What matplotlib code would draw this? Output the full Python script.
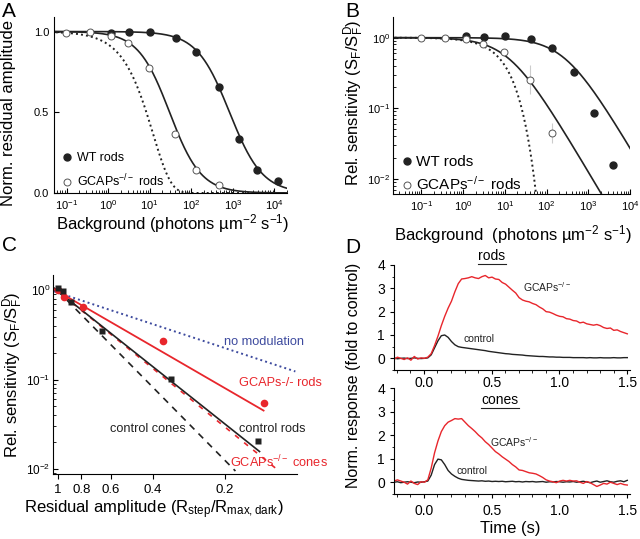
import numpy as np
import matplotlib
matplotlib.use('Agg')
import matplotlib.pyplot as plt
from matplotlib.ticker import FixedLocator, NullLocator, MultipleLocator

plt.rcParams['font.family'] = ['Liberation Sans', 'DejaVu Sans']
plt.rcParams['mathtext.fontset'] = 'custom'
plt.rcParams['mathtext.rm'] = 'Liberation Sans'
plt.rcParams['mathtext.it'] = 'Liberation Sans:italic'
plt.rcParams['mathtext.bf'] = 'Liberation Sans:bold'
plt.rcParams['axes.linewidth'] = 0.8

RED = '#e8262c'
BLUE = '#3d4a9e'
DARK = '#222222'

# ---------- panel A: residual amplitude vs background ----------
bg_wt_A = [1.16, 3.2, 10, 43.6, 132, 453, 1393, 3837, 12250]
amp_wt = [0.99, 1.0, 1.0, 0.96, 0.875, 0.655, 0.335, 0.145, 0.075]
bg_ko_A = [0.096, 0.36, 1.16, 3.0, 9.5, 41.3, 132, 453]
amp_ko = [0.99, 1.0, 0.97, 0.93, 0.775, 0.365, 0.14, 0.05]
hill_wt = (830, 1.1)      # half-saturating background, exponent
hill_ko = (30, 1.15)
exp_ko_A = 12.0           # dotted exponential curve

# ---------- panel B: relative sensitivity vs background ----------
bg_wt_B = [1.16, 3.2, 10, 43.6, 132, 453, 1393, 3837]
sens_wt = [1.04, 1.01, 1.06, 0.97, 0.71, 0.33, 0.087, 0.0156]
bg_ko_B = [0.096, 0.36, 1.16, 3.0, 9.5, 41.3, 132]
sens_ko = [0.99, 0.99, 0.95, 0.82, 0.63, 0.25, 0.044]
err_ko_lo = [0, 0, 0, 0, 0, 0.09, 0.012]
err_ko_hi = [0, 0, 0, 0, 0, 0.16, 0.017]
weber_wt = 280.0
weber_ko = 12.7
exp_ko_B = 11.0

# ---------- panel C: sensitivity vs residual amplitude ----------
ctrl_rods_amp = [1.0, 0.953, 0.879, 0.653, 0.336, 0.145]
ctrl_rods_sens = [1.045, 0.98, 0.73, 0.352, 0.101, 0.0207]
ko_rods_amp = [1.0, 0.946, 0.785, 0.365, 0.138]
ko_rods_sens = [1.0, 0.842, 0.641, 0.272, 0.0546]
# straight fits on log-log axes, given by their end points
nomod_x, nomod_y = [1.04, 0.1016], [0.966, 0.123]
ko_rods_fit_x, ko_rods_fit_y = [1.04, 0.138], [1.02, 0.045]
ctrl_rods_fit_x, ctrl_rods_fit_y = [1.04, 0.1435], [1.05, 0.0157]
ko_cones_fit_x, ko_cones_fit_y = [1.04, 0.12], [1.05, 0.0097]
ctrl_cones_fit_x, ctrl_cones_fit_y = [1.0, 0.181], [0.97, 0.0095]

# ---------- panel D: normalized flash responses, -0.22..1.5 s ----------
rods_ko = [-0.05, 0.05, 0.0, -0.05, 0.02, -0.08, 0.08, -0.03, 0.02, 0.0, 0.05,
           0.2, 0.55, 0.95, 1.4, 1.8, 2.15, 2.45, 2.85, 3.2, 3.4,
           3.42, 3.45, 3.5, 3.45, 3.42, 3.5, 3.55, 3.45, 3.48, 3.4,
           3.38, 3.25, 3.18, 3.05, 2.92, 2.8, 2.6, 2.5, 2.45, 2.42,
           2.35, 2.3, 2.2, 2.12, 2.0, 1.98, 1.92, 1.85, 1.8, 1.78,
           1.7, 1.68, 1.62, 1.6, 1.52, 1.55, 1.48, 1.45, 1.42, 1.45,
           1.4, 1.32, 1.28, 1.3, 1.2, 1.22, 1.15, 1.1, 1.05]
rods_ctrl = [0.02, -0.02, 0.0, 0.01, -0.01, 0.0, 0.02, 0.0, -0.01, 0.0, 0.02,
             0.15, 0.45, 0.75, 0.97, 1.0, 0.9, 0.72, 0.58, 0.5, 0.47,
             0.45, 0.43, 0.41, 0.39, 0.37, 0.35, 0.33, 0.3, 0.28, 0.26,
             0.24, 0.22, 0.2, 0.19, 0.17, 0.16, 0.15, 0.14, 0.12, 0.11,
             0.1, 0.09, 0.08, 0.08, 0.07, 0.06, 0.06, 0.05, 0.05, 0.04,
             0.04, 0.04, 0.03, 0.03, 0.03, 0.03, 0.02, 0.03, 0.02, 0.02,
             0.03, 0.02, 0.02, 0.02, 0.03, 0.02, 0.02, 0.03, 0.03]
cones_ko = [0.05, 0.1, 0.05, 0.0, -0.08, 0.05, -0.05, -0.1, 0.02, 0.0, 0.1,
            0.6, 1.25, 1.75, 2.15, 2.4, 2.55, 2.62, 2.7, 2.68, 2.7,
            2.55, 2.4, 2.28, 2.15, 2.0, 1.88, 1.72, 1.6, 1.45, 1.3,
            1.2, 1.08, 0.98, 0.88, 0.75, 0.65, 0.52, 0.5, 0.45, 0.4,
            0.38, 0.35, 0.28, 0.2, 0.1, 0.05, 0.02, -0.02, 0.05, 0.08,
            0.05, 0.08, 0.05, 0.06, 0.0, -0.05, 0.03, -0.02, -0.1, -0.18,
            -0.12, -0.05, -0.08, 0.0, -0.05, -0.1, -0.05, -0.1, -0.12]
cones_ctrl = [0.0, 0.02, -0.02, 0.0, 0.02, 0.0, -0.02, 0.01, 0.0, 0.02, 0.05,
              0.3, 0.75, 0.98, 0.95, 0.75, 0.5, 0.35, 0.25, 0.17, 0.12,
              0.1, 0.08, 0.07, 0.06, 0.05, 0.06, 0.04, 0.05, 0.03, 0.04,
              0.03, 0.04, 0.02, 0.03, 0.04, 0.02, 0.03, 0.01, 0.03, 0.02,
              0.03, 0.01, 0.02, 0.03, 0.0, 0.02, 0.01, 0.03, 0.02, 0.0,
              0.02, 0.01, 0.03, 0.0, 0.02, 0.04, 0.01, -0.02, 0.02, 0.05,
              0.0, 0.03, 0.06, 0.02, 0.0, 0.04, 0.06, 0.02, 0.08]
t_start, t_end = -0.22, 1.5


def hill(x, half, n):
    return 1.0 / (1.0 + (x / half) ** n)


fig = plt.figure(figsize=(6.4, 5.39), dpi=100)


def px_axes(left, top, right, bottom):
    W, H = 640, 539
    ax = fig.add_axes([left / W, 1 - bottom / H, (right - left) / W, (bottom - top) / H])
    ax.patch.set_visible(False)
    return ax


def clean(ax, direction='in', size=8):
    ax.spines['top'].set_visible(False)
    ax.spines['right'].set_visible(False)
    ax.tick_params(which='both', direction=direction, labelsize=size)
    ax.tick_params(which='major', length=3.5)
    ax.tick_params(which='minor', length=2)


def underline(txt):
    fig.canvas.draw()
    bb = txt.get_window_extent().transformed(fig.transFigure.inverted())
    fig.add_artist(plt.Line2D([bb.x0, bb.x1], [bb.y0 - 0.002, bb.y0 - 0.002],
                              transform=fig.transFigure, color=DARK, lw=0.8))


# ===== A =====
axA = px_axes(54, 17, 287, 193)
xx = np.logspace(-1.5, 4.5, 500)
axA.plot(xx, hill(xx, *hill_wt), color=DARK, lw=1.2)
axA.plot(xx, hill(xx, *hill_ko), color=DARK, lw=1.2)
axA.plot(xx, np.exp(-xx / exp_ko_A), color=DARK, lw=1.4, ls=(0, (1, 1.6)))
axA.plot(bg_wt_A, amp_wt, 'o', ms=5, color=DARK, label='WT rods')
axA.plot(bg_ko_A, amp_ko, 'o', ms=5, mfc='white', mec='#555555', mew=0.7,
         label='GCAPs$^{-/-}$ rods')
axA.set_xscale('log')
axA.set_xlim(0.05, 2e4)
axA.set_ylim(0, 1.09)
axA.yaxis.set_major_locator(FixedLocator([0, 0.5, 1.0]))
axA.set_yticklabels(['0.0', '0.5', '1.0'])
clean(axA, 'in', 8)
axA.legend(loc='center left', bbox_to_anchor=(0.033, 0.125), frameon=False,
           fontsize=9, handlelength=0.8, handletextpad=0.4, borderpad=0,
           borderaxespad=0, labelspacing=0.7)
fig.text(0.269, 0.586, r'Background (photons µm$^{-2}$ s$^{-1}$)', ha='center',
         va='center', fontsize=12)
fig.text(0.014, 0.79, 'Norm. residual amplitude', rotation=90, ha='center',
         va='center', fontsize=12)

# ===== B =====
axB = px_axes(393, 17, 630, 194)
xx = np.logspace(-2, 4.2, 500)
axB.plot(xx, 1.0 / (1.0 + xx / weber_wt), color=DARK, lw=1.2)
axB.plot(xx, 1.0 / (1.0 + xx / weber_ko), color=DARK, lw=1.2)
axB.plot(xx, np.exp(-xx / exp_ko_B), color=DARK, lw=1.4, ls=(0, (1, 1.6)))
axB.errorbar(bg_ko_B, sens_ko, yerr=[err_ko_lo, err_ko_hi], fmt='none',
             ecolor='#cccccc', elinewidth=0.8)
axB.plot(bg_wt_B, sens_wt, 'o', ms=5, color=DARK, label='WT rods')
axB.plot(bg_ko_B, sens_ko, 'o', ms=5, mfc='white', mec='#555555', mew=0.7,
         label='GCAPs$^{-/-}$ rods')
axB.set_xscale('log')
axB.set_yscale('log')
axB.set_xlim(0.021, 1e4)
axB.set_ylim(0.0061, 1.96)
clean(axB, 'in', 8)
axB.tick_params(axis='y', pad=2)
axB.legend(loc='center left', bbox_to_anchor=(0.038, 0.113), frameon=False,
           fontsize=11, handlelength=0.6, handletextpad=0.3, borderpad=0,
           borderaxespad=0, labelspacing=0.4)
fig.text(0.801, 0.564, r'Background  (photons µm$^{-2}$ s$^{-1}$)', ha='center',
         va='center', fontsize=12)
fig.text(0.553, 0.81, r'Rel. sensitivity (S$_\mathrm{F}$/S$_\mathrm{F}^\mathrm{D}$)',
         rotation=90, ha='center', va='center', fontsize=12)

# ===== C =====
axC = px_axes(53, 275, 297, 474)
axC.plot(nomod_x, nomod_y, color=BLUE, lw=1.4, ls=(0, (1, 1.6)))
axC.plot(ctrl_cones_fit_x, ctrl_cones_fit_y, color=DARK, lw=1.2, ls=(0, (4, 3.5)))
axC.plot(ko_cones_fit_x, ko_cones_fit_y, color=RED, lw=1.2, ls=(0, (3, 4)))
axC.plot(ctrl_rods_fit_x, ctrl_rods_fit_y, color=DARK, lw=1.2)
axC.plot(ko_rods_fit_x, ko_rods_fit_y, color=RED, lw=1.3)
axC.plot(ko_rods_amp, ko_rods_sens, 'o', ms=5.5, color=RED, mec='none')
axC.plot(ctrl_rods_amp, ctrl_rods_sens, 's', ms=4.5, color=DARK, mec='none')
axC.set_xscale('log')
axC.set_yscale('log')
axC.set_xlim(1.05, 0.1)
axC.set_ylim(0.0088, 1.47)
axC.xaxis.set_major_locator(FixedLocator([1, 0.8, 0.6, 0.4, 0.2]))
axC.xaxis.set_minor_locator(NullLocator())
axC.set_xticklabels(['1', '0.8', '0.6', '0.4', '0.2'])
clean(axC, 'in', 8.5)
axC.tick_params(axis='x', which='both', direction='out', labelsize=9.5)
axC.tick_params(axis='y', pad=2)
axC.text(0.138, 0.265, 'no modulation', color=BLUE, fontsize=9.2, ha='center', va='center')
axC.text(0.117, 0.091, 'GCAPs-/- rods', color=RED, fontsize=9.2, ha='center', va='center')
axC.text(0.419, 0.0282, 'control cones', color=DARK, fontsize=9.2, ha='center', va='center')
axC.text(0.127, 0.0282, 'control rods', color=DARK, fontsize=9.2, ha='center', va='center')
axC.text(0.119, 0.0119, 'GCAPs$^{-/-}$ cones', color=RED, fontsize=9.2, ha='center', va='center')
fig.text(0.24, 0.054, r'Residual amplitude (R$_\mathrm{step}$/R$_\mathrm{max,dark}$)',
         ha='center', va='center', fontsize=12)
fig.text(0.02, 0.304, r'Rel. sensitivity (S$_\mathrm{F}$/S$_\mathrm{F}^\mathrm{D}$)',
         rotation=90, ha='center', va='center', fontsize=12)

# ===== D =====
axD1 = px_axes(394, 265, 630, 370)
axD2 = px_axes(394, 388, 630, 494)
for ax, ko, ctrl in [(axD1, rods_ko, rods_ctrl), (axD2, cones_ko, cones_ctrl)]:
    t = np.linspace(t_start, t_end, len(ko))
    ax.plot(t, ctrl, color=DARK, lw=1.0)
    ax.plot(t, ko, color=RED, lw=1.0)
    ax.set_xlim(-0.22, 1.52)
    ax.set_ylim(-0.5, 4)
    ax.xaxis.set_major_locator(FixedLocator([0, 0.5, 1.0, 1.5]))
    ax.set_xticklabels(['0.0', '0.5', '1.0', '1.5'])
    ax.xaxis.set_minor_locator(MultipleLocator(0.1))
    ax.yaxis.set_major_locator(FixedLocator([0, 1, 2, 3, 4]))
    ax.yaxis.set_minor_locator(MultipleLocator(0.5))
    clean(ax, 'out', 10)
    ax.tick_params(which='major', length=3)
    ax.tick_params(which='minor', length=1.8)
axD1.tick_params(axis='x', pad=1)
axD2.tick_params(axis='x', pad=4)
axD1.text(0.91, 3.05, 'GCAPs$^{-/-}$', fontsize=7.5, color=DARK, ha='center', va='center')
axD1.text(0.405, 0.85, 'control', fontsize=7.5, color=DARK, ha='center', va='center')
axD2.text(0.664, 1.72, 'GCAPs$^{-/-}$', fontsize=7.5, color=DARK, ha='center', va='center')
axD2.text(0.357, 0.48, 'control', fontsize=7.5, color=DARK, ha='center', va='center')
t_rods = fig.text(492 / 640, 1 - 256 / 539, 'rods', fontsize=10, ha='center', va='center')
t_cones = fig.text(500 / 640, 1 - 400 / 539, 'cones', fontsize=10, ha='center', va='center')
fig.text(0.553, 0.304, 'Norm. response (fold to control)', rotation=90,
         ha='center', va='center', fontsize=11.5)
fig.text(0.798, 0.0204, 'Time (s)', ha='center', va='center', fontsize=12)
underline(t_rods)
underline(t_cones)

# panel letters
for letter, x, y in [('A', 0.003, 0.997), ('B', 0.539, 0.997),
                     ('C', 0.003, 0.562), ('D', 0.539, 0.558)]:
    fig.text(x, y, letter, fontsize=15, ha='left', va='top')

fig.savefig('out.png', dpi=100)
plt.close(fig)
